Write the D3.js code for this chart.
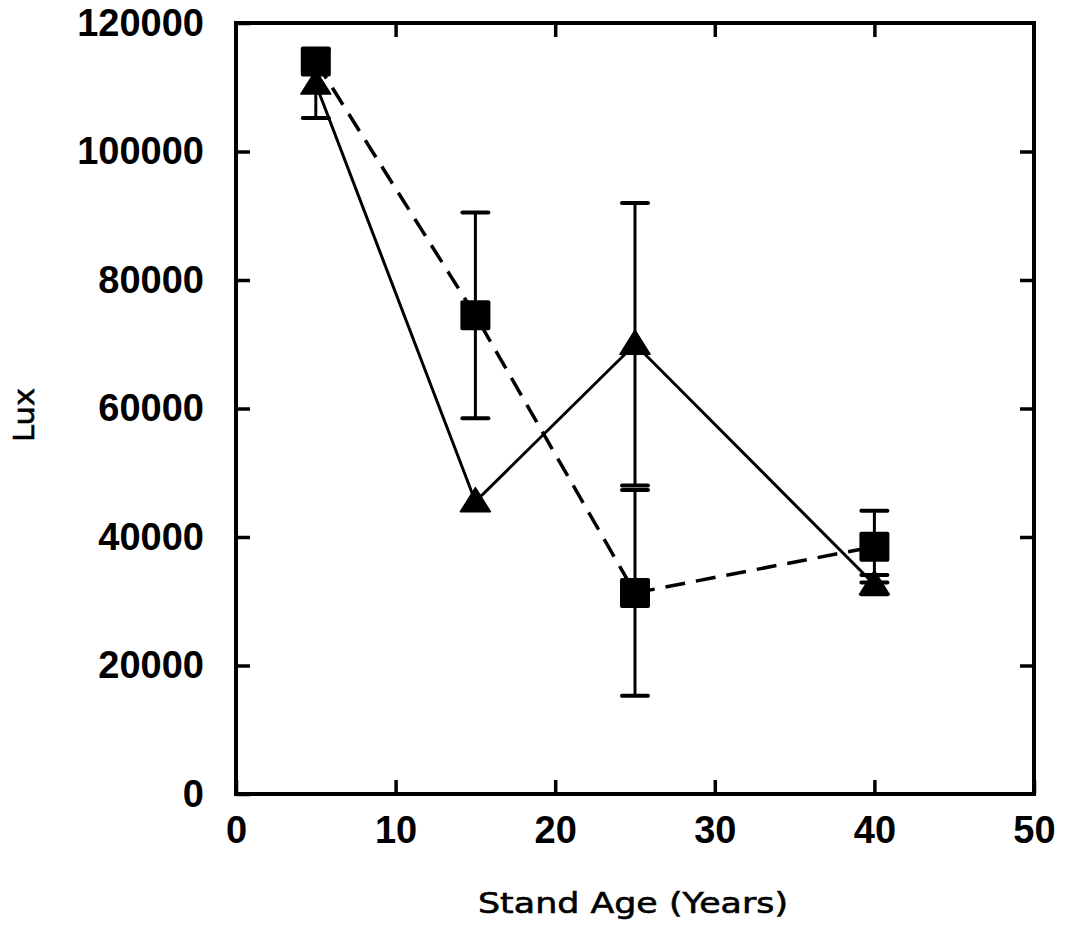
<!DOCTYPE html>
<html>
<head>
<meta charset="utf-8">
<script src="https://cdn.jsdelivr.net/npm/d3@7"></script>
<style>
  html, body { margin: 0; padding: 0; background: #fff; }
  svg { display: block; }
</style>
</head>
<body>
<script>
// ---- data ----
const ages = [5, 15, 25, 40];
const squareLux = [114000, 74500, 31300, 38500];
const squareErr = [0, 16000, 16000, 5600];
const triangleLux = [110500, 45500, 70000, 32600];
const triangleErr = [5300, 0, 22000, 1500];
const xTicks = [0, 10, 20, 30, 40, 50];
const yTicks = [0, 20000, 40000, 60000, 80000, 100000, 120000];
const xTitle = "Stand Age (Years)";
const yTitle = "Lux";

const W = 1069, H = 931;
const svg = d3.select("body").append("svg").attr("width", W).attr("height", H);

const x = d3.scaleLinear().domain([0, 50]).range([236, 1034]);
const y = d3.scaleLinear().domain([0, 120000]).range([794, 23]);

const tickFont = "'Liberation Sans', Arial, sans-serif";

// frame
svg.append("rect")
  .attr("x", x(0)).attr("y", y(120000))
  .attr("width", x(50) - x(0)).attr("height", y(0) - y(120000))
  .attr("fill", "none").attr("stroke", "#000").attr("stroke-width", 4);

function styleAxis(g) {
  g.select(".domain").remove();
  g.selectAll(".tick line").attr("stroke", "#000").attr("stroke-width", 3.5);
  g.selectAll(".tick text").attr("fill", "#000")
    .style("font-family", tickFont).style("font-weight", "bold").style("font-size", "38px");
}

svg.append("g").attr("transform", `translate(${x(0)},0)`)
  .call(d3.axisLeft(y).tickValues(yTicks).tickFormat(d3.format("d")).tickSize(-14).tickPadding(32))
  .call(styleAxis);
svg.append("g").attr("transform", `translate(${x(50)},0)`)
  .call(d3.axisRight(y).tickValues(yTicks.slice(1, -1)).tickFormat("").tickSize(-14))
  .call(styleAxis);
svg.append("g").attr("transform", `translate(0,${y(0)})`)
  .call(d3.axisBottom(x).tickValues(xTicks).tickFormat(d3.format("d")).tickSize(-14).tickPadding(22))
  .call(styleAxis);
svg.append("g").attr("transform", `translate(0,${y(120000)})`)
  .call(d3.axisTop(x).tickValues(xTicks.slice(1, -1)).tickFormat("").tickSize(-14))
  .call(styleAxis);

// titles
svg.append("text")
  .attr("x", 633).attr("y", 913)
  .attr("text-anchor", "middle")
  .attr("textLength", 310).attr("lengthAdjust", "spacingAndGlyphs")
  .attr("stroke", "#000").attr("stroke-width", 0.6)
  .style("font-family", "'DejaVu Sans', sans-serif").style("font-size", "29px")
  .text(xTitle);
svg.append("text")
  .attr("transform", "translate(34,415) rotate(-90)")
  .attr("text-anchor", "middle")
  .attr("textLength", 54).attr("lengthAdjust", "spacingAndGlyphs")
  .attr("stroke", "#000").attr("stroke-width", 0.6)
  .style("font-family", "'DejaVu Sans', sans-serif").style("font-size", "29px")
  .text(yTitle);

const sq = ages.map((a, i) => ({ a, v: squareLux[i], e: squareErr[i] }));
const tr = ages.map((a, i) => ({ a, v: triangleLux[i], e: triangleErr[i] }));

const line = d3.line().x(d => x(d.a)).y(d => y(d.v));

// lines
svg.append("path").datum(tr).attr("d", line)
  .attr("fill", "none").attr("stroke", "#000").attr("stroke-width", 3);
svg.append("path").datum(sq).attr("d", line)
  .attr("fill", "none").attr("stroke", "#000").attr("stroke-width", 3.5)
  .attr("stroke-dasharray", "20,11");

// error bars
function errBars(data) {
  const g = svg.append("g");
  data.filter(d => d.e > 0).forEach(d => {
    g.append("line").attr("x1", x(d.a)).attr("x2", x(d.a))
      .attr("y1", y(d.v + d.e)).attr("y2", y(d.v - d.e))
      .attr("stroke", "#000").attr("stroke-width", 3);
    [d.v + d.e, d.v - d.e].forEach(v => {
      g.append("line").attr("x1", x(d.a) - 13).attr("x2", x(d.a) + 13)
        .attr("y1", y(v)).attr("y2", y(v))
        .attr("stroke", "#000").attr("stroke-width", 4).attr("stroke-linecap", "round");
    });
  });
}
errBars(tr);
errBars(sq);

// markers
svg.append("g").selectAll("path").data(tr).join("path")
  .attr("transform", d => `translate(${x(d.a)},${y(d.v)})`)
  .attr("d", "M0,-14 L15,10 L-15,10 Z")
  .attr("fill", "#000").attr("stroke", "#000").attr("stroke-width", 1.5).attr("stroke-linejoin", "round");
svg.append("g").selectAll("rect").data(sq).join("rect")
  .attr("x", d => x(d.a) - 15).attr("y", d => y(d.v) - 15)
  .attr("width", 30).attr("height", 30).attr("rx", 2)
  .attr("fill", "#000");
</script>
</body>
</html>
